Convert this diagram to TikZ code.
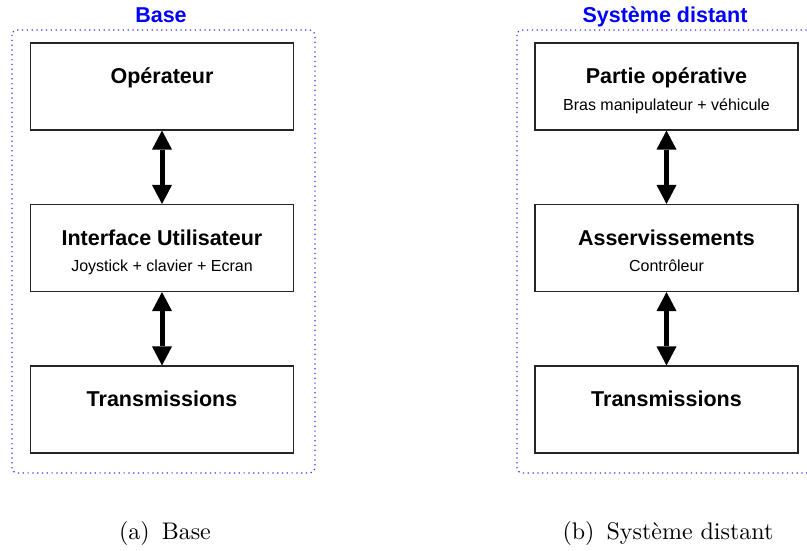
\documentclass[tikz,border=0pt]{standalone}
\usepackage{fontspec}
\setsansfont{Liberation Sans}
\newfontfamily\legende{lmroman10-regular.otf}
\usetikzlibrary{arrows.meta}

\begin{document}
\begin{tikzpicture}[x=1pt, y=-1pt,
	bloc/.style={draw=black!85, line width=1.1pt, minimum width=263pt, minimum height=87pt, inner sep=0pt},
	titre/.style={anchor=base, font=\sffamily\bfseries\fontsize{21.5}{25}\selectfont},
	detail/.style={anchor=base, font=\sffamily\fontsize{16}{19}\selectfont},
	entete/.style={anchor=base, text=blue, font=\sffamily\bfseries\fontsize{21.5}{25}\selectfont},
	groupe/.style={draw=blue!80, line width=1.2pt, dash pattern=on 1.2pt off 3.6pt, rounded corners=5pt},
	liaison/.style={line width=5pt, {Triangle[length=19pt, width=20pt, line width=0pt]}-{Triangle[length=19pt, width=20pt, line width=0pt]}},
	soustitre/.style={anchor=base, font=\legende\fontsize{24}{28}\selectfont}]
	\useasboundingbox (0,0) rectangle (807,550);
	% partie gauche : base
	\draw[groupe] (12,30) rectangle (315,473);
	\node[entete] (tbase) at (161,22.5) {Base};
	\node[bloc] (op) at (162,86.5) {};
	\node[bloc] (iu) at (162,248) {};
	\node[bloc] (trb) at (162,409.5) {};
	\node[titre] (top) at ([yshift=-41.5]op.north) {Opérateur};
	\node[titre] (tiu) at ([yshift=-41.5]iu.north) {Interface Utilisateur};
	\node[detail] (diu) at ([yshift=-68]iu.north) {Joystick + clavier + Ecran};
	\node[titre] (ttrb) at ([yshift=-41.5]trb.north) {Transmissions};
	\draw[liaison] (op) -- (iu);
	\draw[liaison] (iu) -- (trb);
	% partie droite : systeme distant
	\draw[groupe] (517,30) rectangle (820,473);
	\node[entete] (tdist) at (665,22.5) {Système distant};
	\node[bloc] (po) at (666.5,86.5) {};
	\node[bloc] (as) at (666.5,248) {};
	\node[bloc] (trd) at (666.5,409.5) {};
	\node[titre] (tpo) at ([yshift=-41.5]po.north) {Partie opérative};
	\node[detail] (dpo) at ([yshift=-68]po.north) {Bras manipulateur + véhicule};
	\node[titre] (tas) at ([yshift=-41.5]as.north) {Asservissements};
	\node[detail] (das) at ([yshift=-68]as.north) {Contrôleur};
	\node[titre] (ttrd) at ([yshift=-41.5]trd.north) {Transmissions};
	\draw[liaison] (po) -- (as);
	\draw[liaison] (as) -- (trd);
	% legendes
	\node[soustitre] (lega) at (165,539) {(a)\enspace Base};
	\node[soustitre] (legb) at (668,539) {(b)\enspace Système distant};
\end{tikzpicture}
\end{document}
